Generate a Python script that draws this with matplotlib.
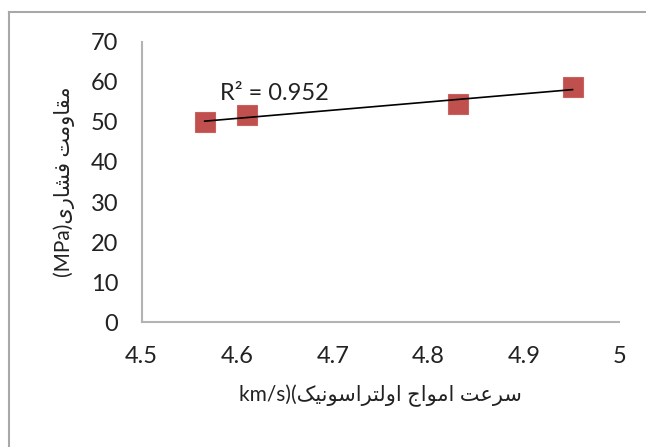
import matplotlib
matplotlib.use("Agg")
import matplotlib.pyplot as plt
import numpy as np
from matplotlib.lines import Line2D

# ultrasonic pulse velocity (km/s) vs compressive strength (MPa)
velocity = [4.566, 4.610, 4.831, 4.951]
strength = [50.0, 51.7, 54.4, 58.8]
r2_text = "R\u00b2 = 0.952"
x_ticks = [4.5, 4.6, 4.7, 4.8, 4.9, 5.0]
x_tick_labels = ["4.5", "4.6", "4.7", "4.8", "4.9", "5"]
y_ticks = [0, 10, 20, 30, 40, 50, 60, 70]

# Persian contextual forms: (isolated, final, initial, medial); None -> right-joining only
FORMS = {
    "\u0627": ("\ufe8d", "\ufe8e", None, None),
    "\u062a": ("\ufe95", "\ufe96", "\ufe97", "\ufe98"),
    "\u062c": ("\ufe9d", "\ufe9e", "\ufe9f", "\ufea0"),
    "\u0631": ("\ufead", "\ufeae", None, None),
    "\u0633": ("\ufeb1", "\ufeb2", "\ufeb3", "\ufeb4"),
    "\u0634": ("\ufeb5", "\ufeb6", "\ufeb7", "\ufeb8"),
    "\u0639": ("\ufec9", "\ufeca", "\ufecb", "\ufecc"),
    "\u0641": ("\ufed1", "\ufed2", "\ufed3", "\ufed4"),
    "\u0642": ("\ufed5", "\ufed6", "\ufed7", "\ufed8"),
    "\u0644": ("\ufedd", "\ufede", "\ufedf", "\ufee0"),
    "\u0645": ("\ufee1", "\ufee2", "\ufee3", "\ufee4"),
    "\u0646": ("\ufee5", "\ufee6", "\ufee7", "\ufee8"),
    "\u0648": ("\ufeed", "\ufeee", None, None),
    "\u06a9": ("\ufb8e", "\ufb8f", "\ufb90", "\ufb91"),
    "\u06cc": ("\ufbfc", "\ufbfd", "\ufbfe", "\ufbff"),
}


def shape_fa(text):
    """Return Persian text in joined presentation forms, visual (left-to-right) order."""
    out = []
    for i, ch in enumerate(text):
        if ch not in FORMS:
            out.append(ch)
            continue
        prev = text[i - 1] if i > 0 else ""
        nxt = text[i + 1] if i + 1 < len(text) else ""
        joins_prev = prev in FORMS and FORMS[prev][2] is not None
        joins_next = FORMS[ch][2] is not None and nxt in FORMS
        iso, fin, ini, med = FORMS[ch]
        if joins_prev and joins_next:
            out.append(med)
        elif joins_prev:
            out.append(fin)
        elif joins_next:
            out.append(ini)
        else:
            out.append(iso)
    return "".join(reversed(out))


y_label = "(MPa)" + shape_fa("مقاومت فشاری")
x_label = "km/s)(" + shape_fa("سرعت امواج اولتراسونیک")

plt.rcParams["font.family"] = ["Lato", "DejaVu Sans"]

fig = plt.figure(figsize=(6.46, 4.47), dpi=100)
ax = fig.add_axes([0.2193, 0.279, 0.7394, 0.6277])

# trendline over the data range
coef = np.polyfit(velocity, strength, 1)
xs = np.array([min(velocity), max(velocity)])
ax.plot(velocity, strength, "s", color="#C0504D", markersize=14.5,
        markeredgecolor="#C9615E", markeredgewidth=0.8, zorder=2)
ax.plot(xs, np.polyval(coef, xs), color="black", linewidth=1.2, zorder=3)
ax.text(4.582, 55.4, r2_text, fontsize=17, color="#222222", va="baseline")

ax.set_xlim(4.5, 5.0)
ax.set_ylim(0, 70)
ax.set_xticks(x_ticks)
ax.set_xticklabels(x_tick_labels)
ax.set_yticks(y_ticks)
ax.tick_params(length=0, labelsize=17, labelcolor="#222222")
ax.tick_params(axis="y", pad=17)
ax.tick_params(axis="x", pad=17)
for side in ("top", "right"):
    ax.spines[side].set_visible(False)
for side in ("left", "bottom"):
    ax.spines[side].set_color("#B3B3B3")
    ax.spines[side].set_linewidth(1.5)

ax.set_ylabel(y_label, fontsize=15, color="#222222", labelpad=11)
ax.set_xlabel(x_label, fontsize=15, color="#222222", labelpad=13)

# outer chart frame
fig.add_artist(Line2D([9 / 646, 9 / 646], [0, 1 - 12 / 447], color="#A8A8A8",
                      linewidth=1.5, transform=fig.transFigure))
fig.add_artist(Line2D([9 / 646, 1], [1 - 12 / 447, 1 - 12 / 447], color="#A8A8A8",
                      linewidth=1.5, transform=fig.transFigure))

fig.savefig("out.png", dpi=100)
